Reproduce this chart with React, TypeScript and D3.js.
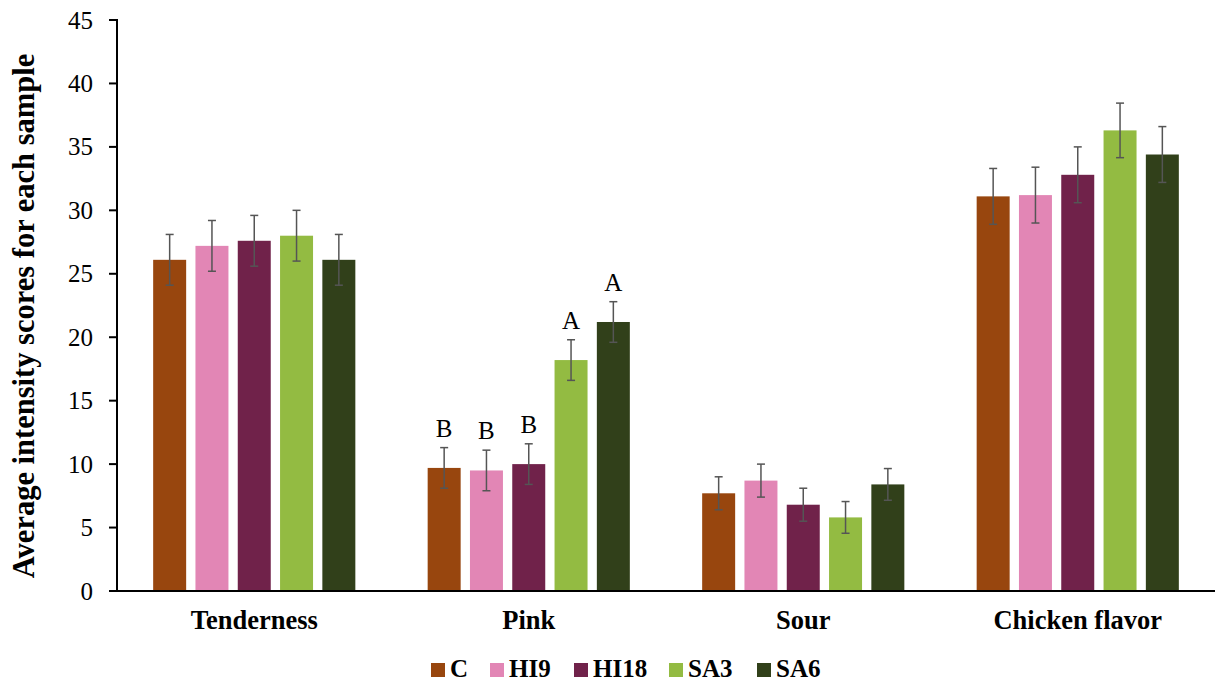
import React from "react";
import * as d3 from "d3";

const categories = ["Tenderness", "Pink", "Sour", "Chicken flavor"];
const samples = ["C", "HI9", "HI18", "SA3", "SA6"];
const colors = ["#98460e", "#e286b5", "#70224a", "#93bb42", "#31401a"];

// mean scores per sample, one array per category order
const valuesC = [26.1, 9.7, 7.7, 31.1];
const valuesHI9 = [27.2, 9.5, 8.7, 31.2];
const valuesHI18 = [27.6, 10.0, 6.8, 32.8];
const valuesSA3 = [28.0, 18.2, 5.8, 36.3];
const valuesSA6 = [26.1, 21.2, 8.4, 34.4];

const errC = [2.0, 1.6, 1.3, 2.2];
const errHI9 = [2.0, 1.6, 1.3, 2.2];
const errHI18 = [2.0, 1.6, 1.3, 2.2];
const errSA3 = [2.0, 1.6, 1.25, 2.15];
const errSA6 = [2.0, 1.6, 1.25, 2.2];

// significance letters (only for Pink)
const lettersPink = ["B", "B", "B", "A", "A"];

const yTicks = [0, 5, 10, 15, 20, 25, 30, 35, 40, 45];

const seriesValues = [valuesC, valuesHI9, valuesHI18, valuesSA3, valuesSA6];
const seriesErr = [errC, errHI9, errHI18, errSA3, errSA6];

const FONT = "Liberation Serif, Tinos, DejaVu Serif, serif";

export default function App() {
  const width = 1220;
  const height = 684;
  const left = 117;
  const right = 1215;
  const top = 20;
  const bottom = 591;

  const x0 = d3.scaleBand<string>().domain(categories).range([left, right]).paddingInner(0).paddingOuter(0);
  const x1 = d3
    .scaleBand<string>()
    .domain(samples)
    .range([0, x0.bandwidth()])
    .paddingInner(0.22)
    .paddingOuter(0.855);
  const y = d3.scaleLinear().domain([0, 45]).range([bottom, top]);

  const legendX = [431, 490, 574, 669, 757];

  return (
    <svg
      width={width}
      height={height}
      style={{ position: "absolute", left: 0, top: 0, background: "#fff", fontFamily: FONT }}
    >
      {/* bars */}
      {categories.map((cat, ci) =>
        samples.map((s, si) => {
          const v = seriesValues[si][ci];
          const bx = (x0(cat) as number) + (x1(s) as number);
          return (
            <rect
              key={cat + s}
              x={bx}
              y={y(v)}
              width={x1.bandwidth()}
              height={y(0) - y(v)}
              fill={colors[si]}
            />
          );
        })
      )}
      {/* error bars */}
      {categories.map((cat, ci) =>
        samples.map((s, si) => {
          const v = seriesValues[si][ci];
          const e = seriesErr[si][ci];
          const cx = (x0(cat) as number) + (x1(s) as number) + x1.bandwidth() / 2;
          return (
            <g key={"e" + cat + s} stroke="#555" strokeWidth={1.5}>
              <line x1={cx} x2={cx} y1={y(v + e)} y2={y(v - e)} />
              <line x1={cx - 4} x2={cx + 4} y1={y(v + e)} y2={y(v + e)} />
              <line x1={cx - 4} x2={cx + 4} y1={y(v - e)} y2={y(v - e)} />
            </g>
          );
        })
      )}
      {/* letters */}
      {samples.map((s, si) => {
        const cx = (x0("Pink") as number) + (x1(s) as number) + x1.bandwidth() / 2;
        const v = seriesValues[si][1];
        const e = seriesErr[si][1];
        return (
          <text
            key={"l" + s}
            x={cx}
            y={y(v + e) - 11}
            textAnchor="middle"
            style={{ fontFamily: FONT }}
            fontSize={25}
            fill="#000"
          >
            {lettersPink[si]}
          </text>
        );
      })}
      {/* axes */}
      <line x1={left} x2={left} y1={top - 1} y2={bottom + 1} stroke="#000" strokeWidth={2} />
      <line x1={left - 1} x2={right} y1={bottom} y2={bottom} stroke="#000" strokeWidth={2.2} />
      {yTicks.map((t) => (
        <g key={"t" + t}>
          <line x1={left - 8} x2={left} y1={y(t)} y2={y(t)} stroke="#000" strokeWidth={2} />
          <text
            x={left - 24}
            y={y(t)}
            dy="0.34em"
            textAnchor="end"
            style={{ fontFamily: FONT }}
            fontSize={25}
            fill="#000"
          >
            {t}
          </text>
        </g>
      ))}
      {categories.map((cat) => (
        <text
          key={"c" + cat}
          x={(x0(cat) as number) + x0.bandwidth() / 2}
          y={629}
          textAnchor="middle"
          style={{ fontFamily: FONT }}
          fontSize={26.5}
          fontWeight="bold"
          fill="#000"
        >
          {cat}
        </text>
      ))}
      <text
        transform={`translate(34, ${316}) rotate(-90)`}
        textAnchor="middle"
        style={{ fontFamily: FONT }}
        fontSize={30.5}
        fontWeight="bold"
        fill="#000"
      >
        Average intensity scores for each sample
      </text>
      {/* legend */}
      {samples.map((s, si) => (
        <g key={"lg" + s}>
          <rect x={legendX[si]} y={663} width={14} height={14} fill={colors[si]} />
          <text
            x={legendX[si] + 19}
            y={677}
            style={{ fontFamily: FONT }}
            fontSize={25}
            fontWeight="bold"
            fill="#000"
          >
            {s}
          </text>
        </g>
      ))}
    </svg>
  );
}
